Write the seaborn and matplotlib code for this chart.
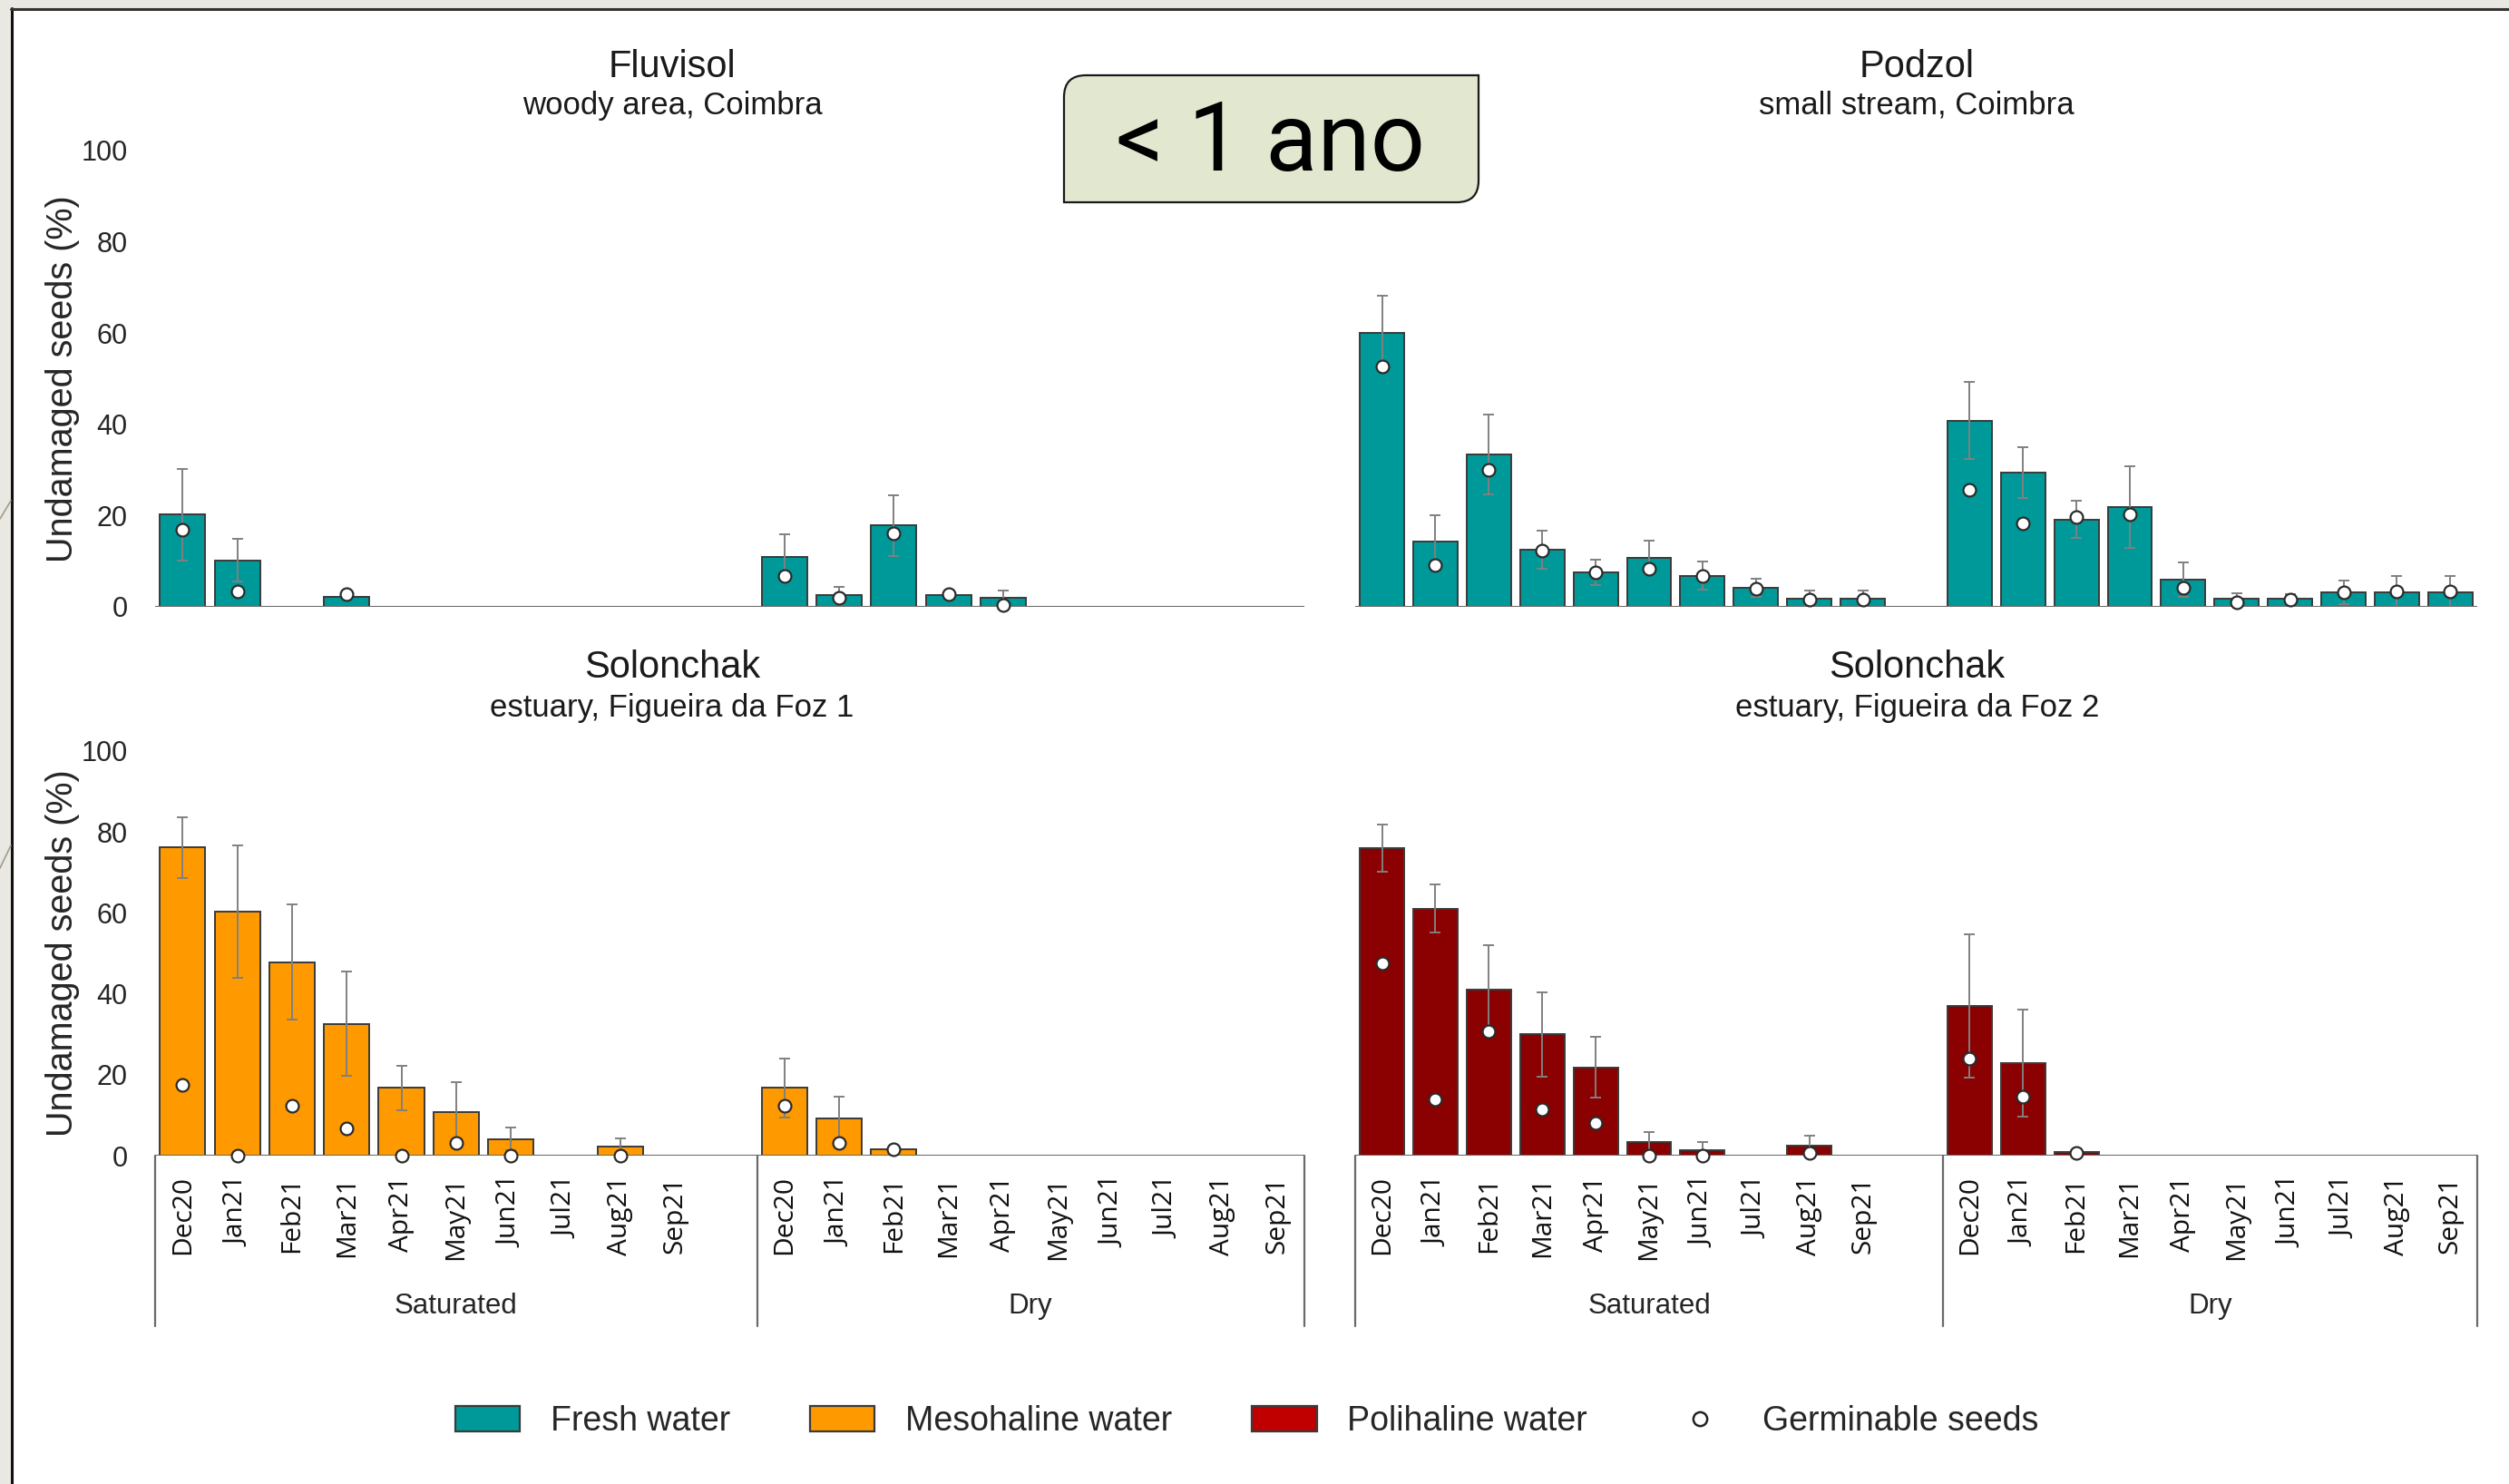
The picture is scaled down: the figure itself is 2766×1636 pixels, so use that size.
import numpy as np
import pandas as pd
import matplotlib
matplotlib.use("Agg")
import matplotlib.pyplot as plt
import matplotlib.transforms as mtransforms
from matplotlib import font_manager
from matplotlib.patches import Patch, Rectangle, PathPatch
from matplotlib.lines import Line2D
from matplotlib.path import Path
import seaborn as sns

# ---------------- data ----------------
months = ["Dec20", "Jan21", "Feb21", "Mar21", "Apr21", "May21", "Jun21", "Jul21", "Aug21", "Sep21"]
groups = ["Saturated", "Dry"]
nan = np.nan

# Fluvisol – fresh water
fluv_sat = [20.2, 10.2, 0, 2.1, 0, 0, 0, 0, 0, 0]
fluv_sat_err = [10.0, 4.6, 0, 0, 0, 0, 0, 0, 0, 0]
fluv_sat_germ = [16.9, 3.4, nan, 2.7, nan, nan, nan, nan, nan, nan]
fluv_dry = [11.0, 2.6, 17.8, 2.6, 2.0, 0, 0, 0, 0, 0]
fluv_dry_err = [4.8, 1.8, 6.6, 0, 1.6, 0, 0, 0, 0, 0]
fluv_dry_germ = [6.8, 2.0, 16.0, 2.7, 0.3, nan, nan, nan, nan, nan]

# Podzol – fresh water
podz_sat = [60.1, 14.3, 33.4, 12.5, 7.6, 10.8, 6.8, 4.2, 1.8, 1.8]
podz_sat_err = [8.0, 5.7, 8.8, 4.2, 2.8, 3.7, 3.1, 2.0, 1.7, 1.7]
podz_sat_germ = [52.6, 9.2, 29.9, 12.4, 7.5, 8.3, 6.8, 4.0, 1.6, 1.6]
podz_dry = [40.8, 29.4, 19.1, 21.8, 5.9, 1.7, 1.7, 3.2, 3.2, 3.2]
podz_dry_err = [8.4, 5.5, 4.1, 9.0, 3.8, 1.2, 1.0, 2.6, 3.6, 3.6]
podz_dry_germ = [25.7, 18.2, 19.6, 20.3, 4.2, 0.9, 1.5, 3.2, 3.3, 3.3]

# Solonchak 1 – mesohaline water
sol1_sat = [76.1, 60.3, 47.8, 32.6, 16.8, 10.7, 4.1, 0, 2.3, 0]
sol1_sat_err = [7.5, 16.3, 14.2, 12.8, 5.5, 7.4, 2.8, 0, 2.1, 0]
sol1_sat_germ = [17.6, 0, 12.4, 6.7, 0, 3.2, 0, nan, 0, nan]
sol1_dry = [16.8, 9.2, 1.7, 0, 0, 0, 0, 0, 0, 0]
sol1_dry_err = [7.3, 5.5, 0, 0, 0, 0, 0, 0, 0, 0]
sol1_dry_germ = [12.4, 3.2, 1.7, nan, nan, nan, nan, nan, nan, nan]

# Solonchak 2 – polihaline water
sol2_sat = [76.0, 61.0, 41.1, 30.0, 21.8, 3.3, 1.5, 0, 2.5, 0]
sol2_sat_err = [5.8, 5.9, 11.0, 10.4, 7.5, 2.5, 1.9, 0, 2.5, 0]
sol2_sat_germ = [47.5, 14.0, 30.8, 11.5, 8.2, 0, 0, nan, 0.7, nan]
sol2_dry = [37.0, 22.9, 0.9, 0, 0, 0, 0, 0, 0, 0]
sol2_dry_err = [17.8, 13.2, 0, 0, 0, 0, 0, 0, 0, 0]
sol2_dry_germ = [24.1, 14.7, 0.7, nan, nan, nan, nan, nan, nan, nan]

legend_labels = ["Fresh water", "Mesohaline water", "Polihaline water", "Germinable seeds"]
panel_titles = [("Fluvisol", "woody area, Coimbra"), ("Podzol", "small stream, Coimbra"),
                ("Solonchak", "estuary, Figueira da Foz 1"), ("Solonchak", "estuary, Figueira da Foz 2")]
box_text = "< 1 ano"
y_label = "Undamaged seeds (%)"

C_FRESH = "#009999"
C_MESO = "#FF9900"
C_POLI = "#8B0000"
C_POLI_LEG = "#C00000"

# ---------------- style ----------------
sns.set_theme(style="white")
names = {f.name for f in font_manager.fontManager.ttflist}
NARROW = "Liberation Sans Narrow" if "Liberation Sans Narrow" in names else "Liberation Sans"
plt.rcParams["font.family"] = [NARROW, "DejaVu Sans"]
MONTH_FONT = "Open Sans" if "Open Sans" in names else "DejaVu Sans"
BOX_FONT = "Roboto" if "Roboto" in names else "DejaVu Sans"

W, H = 2766, 1636
fig = plt.figure(figsize=(W / 100, H / 100), dpi=100)
fig.patch.set_facecolor("#e9e8e2")

# white slide area with border
fig.patches.append(Rectangle((12 / W, 0), 1, 1 - 9 / H, transform=fig.transFigure,
                             facecolor="white", edgecolor="none", zorder=-10))
fig.lines.append(Line2D([13 / W, 13 / W], [0, 1 - 9 / H], transform=fig.transFigure, color="#111111", lw=2.2))
fig.lines.append(Line2D([12 / W, 1], [1 - 9.5 / H, 1 - 9.5 / H], transform=fig.transFigure, color="#333333", lw=2.2))
fig.lines.append(Line2D([0, 12 / W], [1 - 572 / H, 1 - 552 / H], transform=fig.transFigure, color="#a39d88", lw=1.2))
fig.lines.append(Line2D([0, 12 / W], [1 - 957 / H, 1 - 932 / H], transform=fig.transFigure, color="#a39d88", lw=1.2))

slots = [f"S-{m}" for m in months] + ["gap"] + [f"D-{m}" for m in months]


def draw_panel(ax, sat, dry, sat_err, dry_err, sat_g, dry_g, color, show_y, show_x):
    df = pd.DataFrame({
        "slot": [f"S-{m}" for m in months] + [f"D-{m}" for m in months],
        "value": list(sat) + list(dry),
    })
    sns.barplot(data=df, x="slot", y="value", order=slots, color=color, saturation=1,
                width=0.83, edgecolor="#3a3a3a", linewidth=1.4, errorbar=None, ax=ax, zorder=2)
    pos = np.array([slots.index(s) for s in df["slot"]])
    vals = np.array(list(sat) + list(dry), float)
    errs = np.array(list(sat_err) + list(dry_err), float)
    germ = np.array(list(sat_g) + list(dry_g), float)
    m = errs > 0
    ax.errorbar(pos[m], vals[m], yerr=errs[m], fmt="none", ecolor="#808080",
                elinewidth=1.4, capsize=4, capthick=1.4, zorder=3)
    ax.plot(pos, germ, linestyle="none", marker="o", ms=10, mfc="white",
            mec="#2b2b2b", mew=1.6, zorder=6, clip_on=False)
    ax.set_xlim(-0.5, 20.5)
    ax.set_ylim(0, 100)
    ax.axhline(0, color="#6a6a6a", lw=2.2, zorder=5)
    for s in ax.spines.values():
        s.set_visible(False)
    ax.set_facecolor("none")
    ax.set_xlabel("")
    ax.set_ylabel("")
    if show_y:
        ax.set_yticks([0, 20, 40, 60, 80, 100])
        ax.set_yticklabels(["0", "20", "40", "60", "80", "100"], fontsize=22)
        ax.tick_params(axis="y", length=0, pad=22)
        ax.set_ylabel(y_label, fontsize=28.5, family=["Liberation Sans", "DejaVu Sans"])
        ax.yaxis.set_label_coords(-0.066, 0.5)
    else:
        ax.set_yticks([])
    if show_x:
        mpos = [slots.index(f"S-{mm}") for mm in months] + [slots.index(f"D-{mm}") for mm in months]
        ax.set_xticks(mpos)
        ax.set_xticklabels(months + months, rotation=90, fontsize=21.5, family=MONTH_FONT,
                           va="top", color="#111111")
        ax.tick_params(axis="x", length=0, pad=16)
        trans = mtransforms.blended_transform_factory(ax.transData, ax.transAxes)
        for xb in [-0.5, slots.index("gap") + 0.5, len(slots) - 0.5]:
            ax.plot([xb, xb], [0, -0.42], transform=trans, color="#6a6a6a", lw=1.6, clip_on=False)
        ax.text((-0.5 + slots.index("gap") + 0.5) / 2, -0.372, groups[0], transform=trans,
                ha="center", va="center", fontsize=22.5)
        ax.text((slots.index("gap") + 0.5 + len(slots) - 0.5) / 2, -0.372, groups[1], transform=trans,
                ha="center", va="center", fontsize=22.5)
    else:
        ax.set_xticks([])


LX, RX = 97 / 1568, 847 / 1568
LW, RW = (815 - 97) / 1568, (1548 - 847) / 1568
TB, TH = 1 - 379 / 927, (379 - 94) / 927
BB, BH = 1 - 722 / 927, (722 - 469) / 927

ax_tl = fig.add_axes([LX, TB, LW, TH])
ax_tr = fig.add_axes([RX, TB, RW, TH])
ax_bl = fig.add_axes([LX, BB, LW, BH])
ax_br = fig.add_axes([RX, BB, RW, BH])

draw_panel(ax_tl, fluv_sat, fluv_dry, fluv_sat_err, fluv_dry_err, fluv_sat_germ, fluv_dry_germ, C_FRESH, True, False)
draw_panel(ax_tr, podz_sat, podz_dry, podz_sat_err, podz_dry_err, podz_sat_germ, podz_dry_germ, C_FRESH, False, False)
draw_panel(ax_bl, sol1_sat, sol1_dry, sol1_sat_err, sol1_dry_err, sol1_sat_germ, sol1_dry_germ, C_MESO, True, True)
draw_panel(ax_br, sol2_sat, sol2_dry, sol2_sat_err, sol2_dry_err, sol2_sat_germ, sol2_dry_germ, C_POLI, False, True)

# panel titles
title_pos = [(420, 42, 66), (1198, 42, 66), (420, 417, 442), (1198, 417, 442)]
for (t, sub), (x, y1, y2) in zip(panel_titles, title_pos):
    fig.text(x / 1568, 1 - y1 / 927, t, ha="center", va="center", fontsize=30, color="#1a1a1a")
    fig.text(x / 1568, 1 - y2 / 927, sub, ha="center", va="center", fontsize=25, color="#1a1a1a")

# "< 1 ano" box (round-diagonal-corner rectangle), built in inches
left, right = 1173 / 100, 1630 / 100
top, bottom = (H - 83) / 100, (H - 223) / 100
r = 0.24
verts = [(left, bottom), (left, top - r), (left, top), (left + r, top), (right, top),
         (right, bottom + r), (right, bottom), (right - r, bottom), (left, bottom), (left, bottom)]
codes = [Path.MOVETO, Path.LINETO, Path.CURVE3, Path.CURVE3, Path.LINETO,
         Path.LINETO, Path.CURVE3, Path.CURVE3, Path.LINETO, Path.CLOSEPOLY]
fig.patches.append(PathPatch(Path(verts, codes), transform=fig.dpi_scale_trans,
                             facecolor="#e2e8d0", edgecolor="#1a1a1a", lw=1.6, zorder=5))
fig.text(1401 / W, 1 - 188 / H, box_text, ha="center", va="baseline", fontsize=76,
         family=[BOX_FONT, "DejaVu Sans"], color="black", zorder=6)

# legend
handles = [
    Patch(facecolor=C_FRESH, edgecolor="#3a3a3a", lw=1.6),
    Patch(facecolor=C_MESO, edgecolor="#3a3a3a", lw=1.6),
    Patch(facecolor=C_POLI_LEG, edgecolor="#3a3a3a", lw=1.6),
    Line2D([], [], linestyle="none", marker="o", ms=11, mfc="white", mec="#222222", mew=1.8),
]
fig.legend(handles, legend_labels, loc="center", bbox_to_anchor=(0.497, 1 - 1567 / H), ncol=4,
           frameon=False, fontsize=27, handlelength=1.9, handleheight=0.75, handletextpad=0.9,
           columnspacing=2.35)

fig.savefig("out.png", dpi=100, facecolor=fig.get_facecolor())
